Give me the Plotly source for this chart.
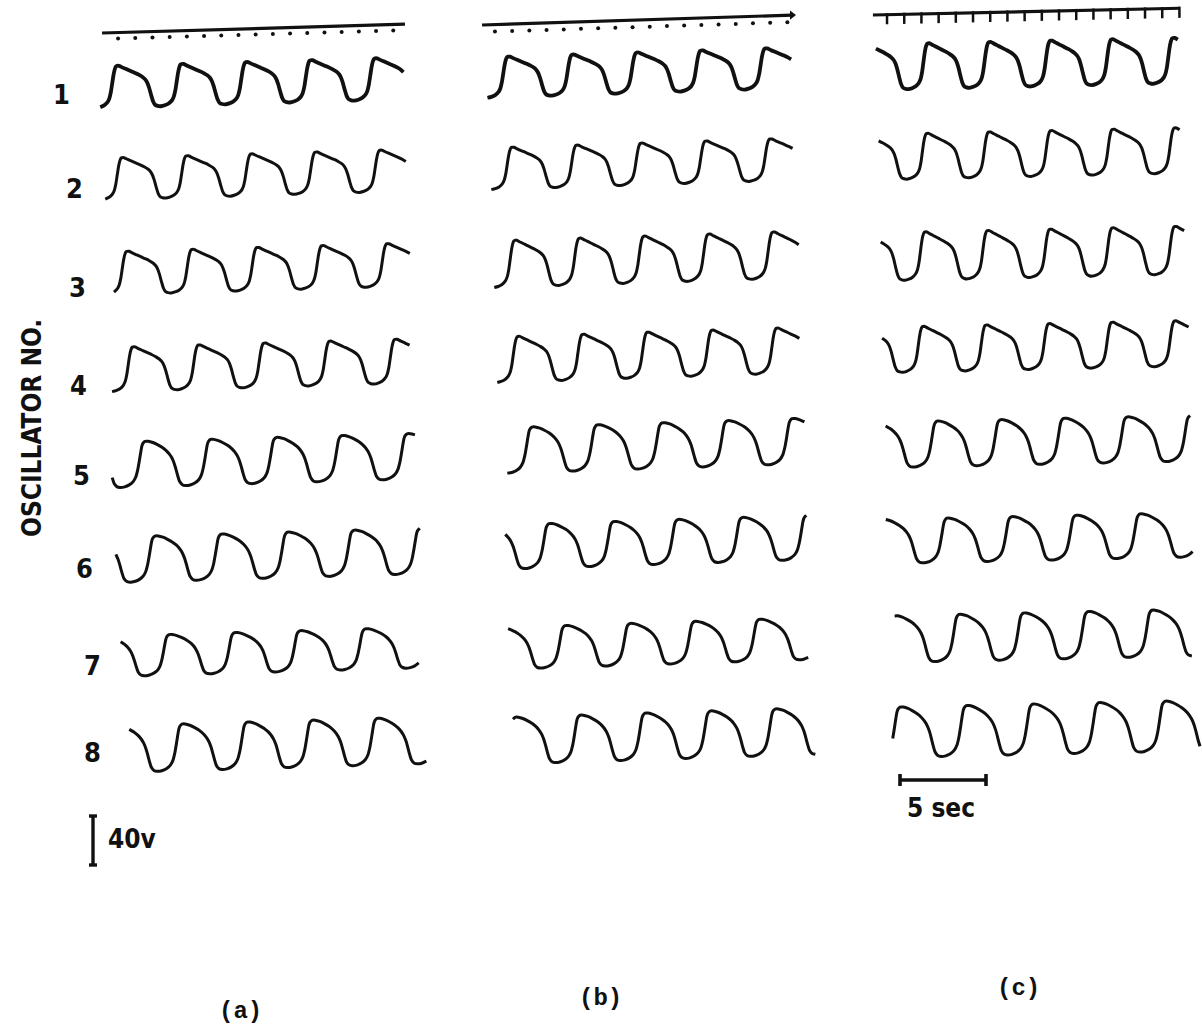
import math
import plotly.graph_objects as go

# ---------------------------------------------------------------------------
# Recorded data: eight coupled relaxation oscillators, three recording runs
# ---------------------------------------------------------------------------
PANELS = ["(a)", "(b)", "(c)"]
OSCILLATORS = ["1", "2", "3", "4", "5", "6", "7", "8"]

# One cycle of oscillator voltage (fraction of swing), phase 0 = top of fast rise.
# Oscillators 1-4: sloping plateau
WAVE_PHASE_SLOPED = [0.00, 0.03, 0.08, 0.15, 0.22, 0.29, 0.35, 0.40, 0.44, 0.47,
                     0.50, 0.53, 0.56, 0.59, 0.63, 0.68, 0.74, 0.80, 0.85, 0.88,
                     0.905, 0.925, 0.945, 0.965, 0.985]
WAVE_LEVEL_SLOPED = [1.00, 1.00, 0.96, 0.91, 0.86, 0.81, 0.76, 0.71, 0.65, 0.57,
                     0.44, 0.27, 0.12, 0.04, 0.01, 0.00, 0.02, 0.06, 0.13, 0.22,
                     0.38, 0.58, 0.78, 0.92, 0.99]
# Oscillators 5-8: rounded plateau
WAVE_PHASE_ROUND = [0.00, 0.03, 0.08, 0.15, 0.22, 0.29, 0.35, 0.40, 0.44, 0.475,
                    0.50, 0.53, 0.56, 0.60, 0.65, 0.72, 0.79, 0.85, 0.89, 0.92,
                    0.945, 0.965, 0.98, 0.99]
WAVE_LEVEL_ROUND = [0.96, 1.00, 1.00, 0.97, 0.92, 0.86, 0.79, 0.71, 0.62, 0.50,
                    0.38, 0.22, 0.09, 0.02, 0.00, 0.01, 0.05, 0.12, 0.22, 0.38,
                    0.58, 0.76, 0.88, 0.93]

# Per run, per oscillator (seconds from the start of the run)
RECORD_START_S = [
    [0.00, 0.17, 0.70, 0.70, 0.70, 0.87, 1.16, 1.57],
    [0.29, 0.58, 0.76, 0.99, 1.45, 1.28, 1.63, 1.92],
    [0.29, 0.47, 0.47, 0.58, 0.76, 0.87, 1.34, 1.28],
]
FIRST_PEAK_S = [
    [0.99, 1.28, 1.57, 1.92, 2.50, 3.08, 3.90, 4.65],
    [1.63, 1.86, 2.03, 2.21, 2.91, 3.90, 4.83, 5.70],
    [3.37, 3.31, 3.20, 3.08, 3.78, 4.36, 5.06, 1.63],
]
PERIOD_S = [
    [3.75, 3.75, 3.78, 3.81, 3.81, 3.85, 3.80, 3.78],
    [3.74, 3.75, 3.75, 3.76, 3.78, 3.74, 3.76, 3.78],
    [3.56, 3.60, 3.63, 3.66, 3.68, 3.74, 3.74, 3.85],
]
RECORD_END_S = [
    [17.67, 17.91, 18.14, 18.14, 18.49, 18.60, 18.60, 19.07],
    [18.14, 18.31, 18.60, 18.72, 18.90, 19.01, 19.30, 19.59],
    [18.14, 18.20, 18.43, 18.60, 18.72, 18.78, 18.78, 19.19],
]
SWING_V = [
    [34, 34, 35, 36, 37, 37, 33, 38],
    [33, 34, 38, 37, 37, 36, 34, 38],
    [37, 37, 39, 37, 37, 36, 38, 41],
]

# One-second timing marks above each run
MARK_LINE_START_S = [0.12, 0.12, 0.17]
MARK_LINE_END_S = [17.73, 18.14, 18.02]
FIRST_MARK_S = [1.05, 0.87, 0.99]
MARK_COUNT = [17, 18, 18]

# Calibration bars
TIME_BAR_S = 5
VOLT_BAR_V = 40

# ---------------------------------------------------------------------------
# Page layout (pixels) and scale of the record
# ---------------------------------------------------------------------------
W, H = 1202, 1025
PX_PER_S = 17.2
PX_PER_V = 1.225

PANEL_ORIGIN_PX = [100, 480, 870]
ROW_BASE_PX = [
    [108, 200, 295, 392, 488, 583, 677, 773],
    [98, 190, 288, 383, 474, 570, 670, 765],
    [90, 180, 281, 373, 468, 564, 663, 758],
]
PANEL_TILT = [0.029, 0.032, 0.022]       # slight skew of each record strip
MARK_LINE_PX = [33, 25, 15]              # timing line height at the run start
PANEL_LABEL_PX = [(240, 1011), (600, 998), (1018, 988)]
ROW_LABEL_PX = [(61, 94), (74, 188), (77, 287), (78, 385),
                (81, 475), (84, 568), (92, 665), (92, 752)]

INK = "#111111"


def ax_x(px):
    return px / PX_PER_S


def ax_y(py):
    return (H - py) / PX_PER_V


def tilt_v_per_s(p):
    return PANEL_TILT[p] * PX_PER_S / PX_PER_V


def cycle_points(start, peak, period, end, phases, levels):
    t_out, lvl_out = [], []
    k = math.floor((start - peak) / period) - 1
    while peak + k * period <= end:
        base = peak + k * period
        for ph, lv in zip(phases, levels):
            tt = base + ph * period
            if start <= tt <= end:
                t_out.append(tt)
                lvl_out.append(lv)
        k += 1
    return t_out, lvl_out


fig = go.Figure()

for p in range(len(PANELS)):
    x0 = ax_x(PANEL_ORIGIN_PX[p])
    slope = tilt_v_per_s(p)
    for r in range(len(OSCILLATORS)):
        if r < 4:
            phases, levels = WAVE_PHASE_SLOPED, WAVE_LEVEL_SLOPED
        else:
            phases, levels = WAVE_PHASE_ROUND, WAVE_LEVEL_ROUND
        t, lv = cycle_points(RECORD_START_S[p][r], FIRST_PEAK_S[p][r],
                             PERIOD_S[p][r], RECORD_END_S[p][r], phases, levels)
        base = ax_y(ROW_BASE_PX[p][r])
        xs = [x0 + tt for tt in t]
        ys = [base + SWING_V[p][r] * v + slope * tt for tt, v in zip(t, lv)]
        fig.add_trace(go.Scatter(
            x=xs, y=ys, mode="lines",
            line=dict(color=INK, width=3.8 if r == 0 else 3.0,
                      shape="spline", smoothing=0.55),
            hoverinfo="skip", showlegend=False))

    # timing line with one-second marks
    ly = ax_y(MARK_LINE_PX[p])
    ls, le = MARK_LINE_START_S[p], MARK_LINE_END_S[p]
    fig.add_trace(go.Scatter(
        x=[x0 + ls, x0 + le], y=[ly, ly + slope * (le - ls)], mode="lines",
        line=dict(color=INK, width=3.2), hoverinfo="skip", showlegend=False))
    mt = [FIRST_MARK_S[p] + k for k in range(MARK_COUNT[p])]
    if p < 2:
        drop = (6 if p == 0 else 7) / PX_PER_V
        fig.add_trace(go.Scatter(
            x=[x0 + m for m in mt],
            y=[ly - drop + slope * (m - ls) for m in mt],
            mode="markers", marker=dict(color=INK, size=4, symbol="circle"),
            hoverinfo="skip", showlegend=False))
    else:
        drop = 4 / PX_PER_V
        fig.add_trace(go.Scatter(
            x=[x0 + m for m in mt],
            y=[ly - drop + slope * (m - ls) for m in mt],
            mode="markers",
            marker=dict(color=INK, size=8, symbol="line-ns",
                        line=dict(color=INK, width=2.5)),
            hoverinfo="skip", showlegend=False))
    if p == 1:
        fig.add_trace(go.Scatter(
            x=[x0 + le], y=[ly + slope * (le - ls)], mode="markers",
            marker=dict(color=INK, size=8, symbol="triangle-right"),
            hoverinfo="skip", showlegend=False))

    # panel caption
    lx, lyp = PANEL_LABEL_PX[p]
    fig.add_annotation(x=ax_x(lx), y=ax_y(lyp), text="<b>%s</b>" % PANELS[p],
                       showarrow=False,
                       font=dict(family="Liberation Mono", size=24, color=INK),
                       xanchor="center", yanchor="middle")

# oscillator numbers
for r, lab in enumerate(OSCILLATORS):
    lx, lyp = ROW_LABEL_PX[r]
    fig.add_annotation(x=ax_x(lx), y=ax_y(lyp), text="<b>%s</b>" % lab,
                       showarrow=False,
                       font=dict(family="DejaVu Sans Condensed", size=27, color=INK),
                       xanchor="center", yanchor="middle")

fig.add_annotation(x=ax_x(32), y=ax_y(428), text="<b>OSCILLATOR NO.</b>",
                   textangle=-90, showarrow=False,
                   font=dict(family="DejaVu Sans Condensed", size=26, color=INK),
                   xanchor="center", yanchor="middle")

# 40 V calibration bar
vb_x = ax_x(93)
vb_y0 = ax_y(865)
cap = 4 / PX_PER_S
fig.add_trace(go.Scatter(
    x=[vb_x, vb_x, None, vb_x - cap, vb_x + cap, None, vb_x - cap, vb_x + cap],
    y=[vb_y0, vb_y0 + VOLT_BAR_V, None, vb_y0, vb_y0, None,
       vb_y0 + VOLT_BAR_V, vb_y0 + VOLT_BAR_V],
    mode="lines", line=dict(color=INK, width=3.4),
    hoverinfo="skip", showlegend=False))
fig.add_annotation(x=ax_x(106), y=ax_y(839), text="<b>40v</b>", showarrow=False,
                   font=dict(family="DejaVu Sans Condensed", size=26, color=INK),
                   xanchor="left", yanchor="middle")

# 5 s calibration bar
tb_x0 = ax_x(900)
tb_y = ax_y(780)
vcap = 6 / PX_PER_V
fig.add_trace(go.Scatter(
    x=[tb_x0, tb_x0 + TIME_BAR_S, None, tb_x0, tb_x0, None,
       tb_x0 + TIME_BAR_S, tb_x0 + TIME_BAR_S],
    y=[tb_y, tb_y, None, tb_y - vcap, tb_y + vcap, None, tb_y - vcap, tb_y + vcap],
    mode="lines", line=dict(color=INK, width=3.6),
    hoverinfo="skip", showlegend=False))
fig.add_annotation(x=ax_x(941), y=ax_y(808), text="<b>5 sec</b>", showarrow=False,
                   font=dict(family="DejaVu Sans Condensed", size=26, color=INK),
                   xanchor="center", yanchor="middle")

fig.update_layout(
    width=W, height=H,
    margin=dict(l=0, r=0, t=0, b=0),
    paper_bgcolor="white", plot_bgcolor="white",
    xaxis=dict(range=[0, W / PX_PER_S], visible=False, fixedrange=True),
    yaxis=dict(range=[0, H / PX_PER_V], visible=False, fixedrange=True),
    showlegend=False,
)

fig.write_html("out.html")
